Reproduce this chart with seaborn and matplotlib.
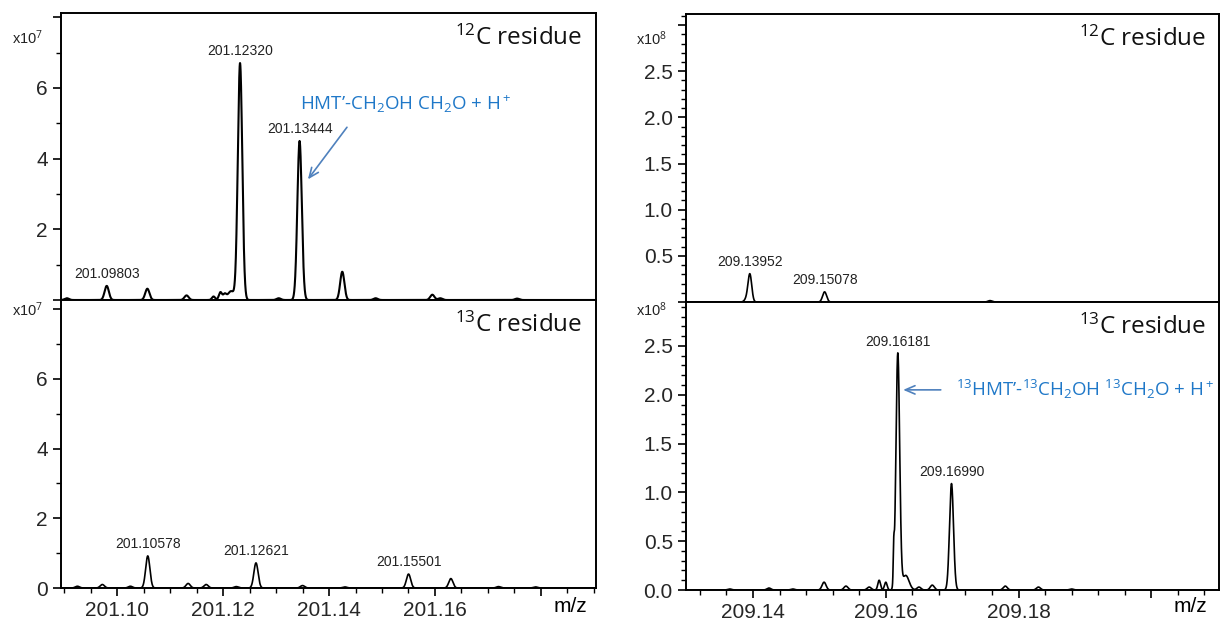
import numpy as np
import pandas as pd
import matplotlib
matplotlib.use("Agg")
import matplotlib.pyplot as plt
from matplotlib.ticker import MultipleLocator, FuncFormatter
import seaborn as sns

# ---------------- data ----------------
# Left column: m/z ~201, intensities in units of 1e7
l12_mz = [201.0905, 201.09803, 201.1057, 201.1131, 201.1182, 201.1195, 201.1203, 201.1215,
          201.12320, 201.1305, 201.13444, 201.1425, 201.1488, 201.1595, 201.1610, 201.1755]
l12_int = [0.05, 0.40, 0.32, 0.13, 0.10, 0.22, 0.15, 0.25,
           6.70, 0.05, 4.50, 0.80, 0.05, 0.15, 0.05, 0.04]
l12_wid = [0.0004, 0.0004, 0.0004, 0.0004, 0.0003, 0.0003, 0.0003, 0.0006,
           0.00042, 0.0004, 0.00042, 0.0004, 0.0004, 0.0004, 0.0004, 0.0004]
l12_labels = [201.09803, 201.12320, 201.13444]

l13_mz = [201.0925, 201.0972, 201.1025, 201.10578, 201.1134, 201.1168, 201.1225, 201.12621,
          201.1350, 201.1430, 201.15501, 201.1630, 201.1720, 201.1790]
l13_int = [0.05, 0.10, 0.05, 0.92, 0.13, 0.10, 0.04, 0.72,
           0.07, 0.03, 0.40, 0.27, 0.04, 0.03]
l13_wid = [0.0004] * 14
l13_labels = [201.10578, 201.12621, 201.15501]

# Right column: m/z ~209, intensities in units of 1e8
r12_mz = [209.1390, 209.13952, 209.15078, 209.1757]
r12_int = [0.03, 0.30, 0.11, 0.015]
r12_wid = [0.0003, 0.00028, 0.0003, 0.0003]
r12_labels = [209.13952, 209.15078]

r13_mz = [209.1365, 209.1424, 209.1460, 209.1507, 209.1540, 209.1575, 209.1590, 209.1600,
          209.1612, 209.16181, 209.1630, 209.1650, 209.1670, 209.16990, 209.1780, 209.1830,
          209.1880]
r13_int = [0.01, 0.02, 0.01, 0.08, 0.04, 0.03, 0.10, 0.08,
           0.32, 2.42, 0.15, 0.03, 0.05, 1.09, 0.04, 0.03, 0.01]
r13_wid = [0.0003, 0.0003, 0.0003, 0.0003, 0.0003, 0.0003, 0.0002, 0.0002,
           0.00008, 0.00028, 0.0005, 0.0003, 0.0003, 0.0003, 0.0003, 0.0003, 0.0003]
r13_labels = [209.16181, 209.16990]

# ---------------- style ----------------
sns.set_style("ticks")
plt.rcParams["font.family"] = ["Liberation Sans", "DejaVu Sans"]
plt.rcParams["mathtext.fontset"] = "custom"
plt.rcParams["mathtext.rm"] = "Open Sans"
plt.rcParams["mathtext.it"] = "Open Sans:italic"
plt.rcParams["mathtext.bf"] = "Open Sans:bold"

W, H = 1224, 620
fig = plt.figure(figsize=(W / 100, H / 100), dpi=100)


def ax_at(x0, y0, x1, y1):
    return fig.add_axes([x0 / W, 1 - y1 / H, (x1 - x0) / W, (y1 - y0) / H])


def spectrum(mz, inten, wid, xlim):
    x = np.linspace(xlim[0], xlim[1], 8000)
    y = np.zeros_like(x)
    for c, h, w in zip(mz, inten, wid):
        y += h * np.exp(-0.5 * ((x - c) / w) ** 2)
    return pd.DataFrame({"mz": x, "intensity": y})


blue_txt = "#1f78c8"
blue_arrow = "#4f81bd"

L_XLIM = (201.0894, 201.1904)
R_XLIM = (209.1299, 209.2102)

panels = [
    # (pixel box, data, labels, xlim, ylim, lw, top?)
    ((61, 13, 596, 300), (l12_mz, l12_int, l12_wid), l12_labels, L_XLIM, (0, 8.12), 1.5, True, "left"),
    ((61, 300, 596, 588), (l13_mz, l13_int, l13_wid), l13_labels, L_XLIM, (0, 8.26), 1.2, False, "left"),
    ((686, 14, 1219, 302), (r12_mz, r12_int, r12_wid), r12_labels, R_XLIM, (0, 3.12), 1.2, True, "right"),
    ((686, 302, 1219, 590), (r13_mz, r13_int, r13_wid), r13_labels, R_XLIM, (0, 2.95), 1.2, False, "right"),
]

axes = []
for box, (mz, inten, wid), labels, xlim, ylim, lw, is_top, side in panels:
    ax = ax_at(*box)
    df = spectrum(mz, inten, wid, xlim)
    sns.lineplot(data=df, x="mz", y="intensity", ax=ax, color="black", lw=lw,
                 estimator=None, sort=False)
    ax.set_xlim(*xlim)
    ax.set_ylim(*ylim)
    ax.set_xlabel("")
    ax.set_ylabel("")
    for s in ax.spines.values():
        s.set_linewidth(1.4)
        s.set_color("black")
        s.set_visible(True)

    # peak labels
    for c in labels:
        h = inten[mz.index(c)]
        ax.annotate(f"{c:.5f}", xy=(c, h), xytext=(0, 3.5), textcoords="offset points",
                    ha="center", va="bottom", fontsize=10, color="#222222")

    # ticks
    ax.tick_params(axis="both", which="major", direction="out", length=6, width=1.2,
                   labelsize=15, color="black")
    ax.tick_params(axis="both", which="minor", direction="out", length=3.5, width=1.0,
                   color="black")
    ax.tick_params(top=False, right=False, which="both")
    ax.xaxis.set_major_locator(MultipleLocator(0.02))
    if side == "left":
        ax.xaxis.set_minor_locator(MultipleLocator(0.005))
        ax.yaxis.set_major_locator(MultipleLocator(2))
        ax.yaxis.set_minor_locator(MultipleLocator(1))
        hide_y = (lambda v: v < 1 or v > 7) if is_top else (lambda v: v > 7)
        ax.yaxis.set_major_formatter(FuncFormatter(
            lambda v, p, hide=hide_y: "" if hide(v) else f"{v:.0f}"))
        xmax_label = 201.17
    else:
        ax.xaxis.set_minor_locator(MultipleLocator(0.004))
        ax.yaxis.set_major_locator(MultipleLocator(0.5))
        ax.yaxis.set_minor_locator(MultipleLocator(0.1))
        hide_y = (lambda v: v < 0.25 or v > 2.75) if is_top else (lambda v: v > 2.75)
        ax.yaxis.set_major_formatter(FuncFormatter(
            lambda v, p, hide=hide_y: "" if hide(v) else f"{v:.1f}"))
        xmax_label = 209.19
    if is_top:
        ax.tick_params(axis="x", which="both", bottom=False, labelbottom=False)
    else:
        ax.xaxis.set_major_formatter(FuncFormatter(
            lambda v, p, m=xmax_label: "" if v > m else f"{v:.2f}"))
    axes.append(ax)

ax_l12, ax_l13, ax_r12, ax_r13 = axes

# residue labels
for ax, txt in [(ax_l12, "$^{12}$C residue"), (ax_l13, "$^{13}$C residue"),
                (ax_r12, "$^{12}$C residue"), (ax_r13, "$^{13}$C residue")]:
    ax.text(0.975, 0.955, txt, transform=ax.transAxes, ha="right", va="top",
            fontsize=17.5, family="Open Sans", color="#111111")

# blue annotations
ax_l12.annotate("", xy=(201.1357, 3.35), xytext=(201.1437, 4.95),
                arrowprops=dict(arrowstyle="->,head_length=0.7,head_width=0.3",
                                color=blue_arrow, lw=1.2))
ax_l12.text(201.1345, 5.55, "HMT\u2019-CH$_2$OH CH$_2$O + H$^+$", ha="left", va="center",
            fontsize=13.5, family="Open Sans", color=blue_txt)

ax_r13.annotate("", xy=(209.1622, 2.05), xytext=(209.1687, 2.05),
                arrowprops=dict(arrowstyle="->,head_length=0.7,head_width=0.3",
                                color=blue_arrow, lw=1.2))
ax_r13.text(209.1706, 2.05, "$^{13}$HMT\u2019-$^{13}$CH$_2$OH $^{13}$CH$_2$O + H$^+$",
            ha="left", va="center", fontsize=13.5, family="Open Sans", color=blue_txt)

# scale labels (x10^n) and m/z labels
for px, py, txt in [(12, 44, "x10$^{7}$"), (12, 316, "x10$^{7}$"),
                    (636, 45, "x10$^{8}$"), (636, 316, "x10$^{8}$")]:
    fig.text(px / W, 1 - py / H, txt, ha="left", va="baseline", fontsize=10.5, color="#222222")

for px in (570, 1190):
    fig.text(px / W, 1 - 607 / H, "m/z", ha="center", va="center", fontsize=15, color="black")

fig.savefig("out.png", dpi=100)
